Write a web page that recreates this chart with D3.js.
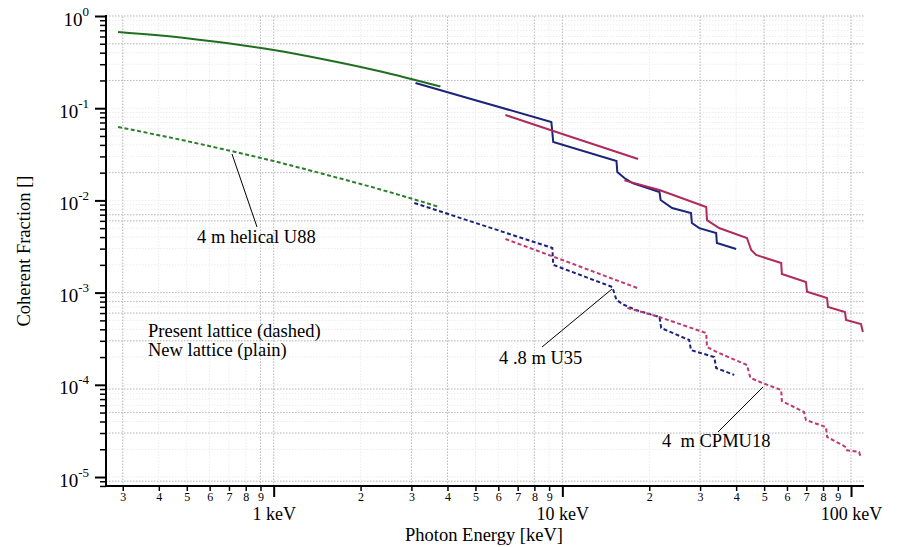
<!DOCTYPE html>
<html>
<head>
<meta charset="utf-8">
<script src="https://cdn.jsdelivr.net/npm/d3@7/dist/d3.min.js"></script>
<style>
  html, body { margin: 0; padding: 0; background: #fff; }
  svg { display: block; font-family: "Liberation Serif", "Times New Roman", serif; }
</style>
</head>
<body>
<svg id="chart" width="897" height="547"></svg>
<script>
// ---------------- DATA ----------------
// Photon energy [keV] and coherent fraction []
const u88NewE   = [0.289, 0.5, 0.705, 1.0, 1.5, 2.33, 3.78];
const u88NewF   = [0.67, 0.575, 0.503, 0.428, 0.338, 0.252, 0.172];
const u88OldE   = [0.289, 0.5, 0.705, 1.0, 1.5, 2.33, 3.75];
const u88OldF   = [0.0625, 0.0440, 0.0346, 0.0267, 0.0192, 0.0132, 0.00848];

const u35NewE   = [3.10, 5.0, 9.16, 9.3, 15.4, 15.5, 16.4, 17.5, 21.7, 21.9, 24.0, 27.9, 28.1, 29.8, 34.1, 34.3, 40.0];
const u35NewF   = [0.188, 0.122, 0.0708, 0.043, 0.0267, 0.0203, 0.0175, 0.01545, 0.0123, 0.0101, 0.00828, 0.0073, 0.00569, 0.0050, 0.00443, 0.00345, 0.00297];
const u35OldE   = [3.07, 5.0, 9.23, 9.3, 14.9, 15.4, 16.4, 18.0, 21.7, 22.0, 27.5, 27.9, 33.6, 34.1, 39.4];
const u35OldF   = [0.00937, 0.0057, 0.00305, 0.0020, 0.00115, 0.00083, 0.000734, 0.000648, 0.000543, 0.000413, 0.000306, 0.000238, 0.000200, 0.000152, 0.000128];

const cpmuNewE1 = [6.35, 10.0, 18.3];
const cpmuNewF1 = [0.0844, 0.0526, 0.0281];
const cpmuNewE2 = [16.4, 21.7, 31.5, 31.7, 34.9, 43.6, 45.1, 46.9, 57.3, 57.6, 69.8, 70.4, 82.6, 83.2, 95.3, 96.1, 108.3, 109.9];
const cpmuNewF2 = [0.0165, 0.01297, 0.00848, 0.00612, 0.00502, 0.00391, 0.0029, 0.00256, 0.00209, 0.00159, 0.0013, 0.00102, 0.000874, 0.000698, 0.000616, 0.000505, 0.000456, 0.000374];
const cpmuOldE1 = [6.35, 10.0, 18.2];
const cpmuOldF1 = [0.00381, 0.00226, 0.00112];
const cpmuOldE2 = [16.8, 21.7, 31.5, 31.7, 34.9, 43.6, 44.8, 49.2, 57.3, 57.6, 68.7, 69.8, 81.9, 82.6, 96.1, 96.9, 106.6, 108.2];
const cpmuOldF2 = [0.00068, 0.000543, 0.000364, 0.000257, 0.000221, 0.000164, 0.000119, 0.000105, 0.0000879, 0.0000667, 0.0000507, 0.0000415, 0.0000348, 0.0000272, 0.0000211, 0.0000195, 0.0000187, 0.0000161];

// Axis ticks
const xMajorTicks = [1, 10, 100];
const xMajorLabels = ["1 keV", "10 keV", "100 keV"];
const xMinorTicks = [0.3,0.4,0.5,0.6,0.7,0.8,0.9, 2,3,4,5,6,7,8,9, 20,30,40,50,60,70,80,90];
const xMinorLabels = ["3","4","5","6","7","8","9","2","3","4","5","6","7","8","9","2","3","4","5","6","7","8","9"];
const yMajorTicks = [1, 1e-1, 1e-2, 1e-3, 1e-4, 1e-5];
const yMajorExp = ["0", "-1", "-2", "-3", "-4", "-5"];
// visible (darker) grid lines
const xGridStrong = [0.3, 0.9, 1, 3, 4, 8, 10, 30, 50, 80, 100];
const yGridStrong = [1, 0.5, 0.2, 0.02, 7e-3, 6e-3, 1e-3, 8e-4, 6e-4, 3e-4, 9e-5, 5e-5, 3e-5, 9e-6];

// ---------------- CHART ----------------
const svg = d3.select("#chart");
const x = d3.scaleLog().domain([0.2625, 110.9]).range([106, 864]);
const y = d3.scaleLog().domain([7.99e-6, 1]).range([486, 16]);

const yMinorTicks = [];
for (let e = -6; e <= 0; e++) for (let m = 2; m <= 9; m++) {
  const v = m * Math.pow(10, e);
  if (v >= 7.99e-6 && v <= 1) yMinorTicks.push(v);
}

const [x0, x1] = x.range();
const [y0, y1] = y.range();

// faint grid
const g = svg.append("g");
g.selectAll(".vf").data(xMinorTicks.concat(xMajorTicks)).join("line")
  .attr("x1", d => x(d)).attr("x2", d => x(d)).attr("y1", y0).attr("y2", y1)
  .attr("stroke", "#ececec").attr("stroke-width", 1).attr("stroke-dasharray", "1.5,1.5");
g.selectAll(".hf").data(yMinorTicks.concat(yMajorTicks)).join("line")
  .attr("x1", x0).attr("x2", x1).attr("y1", d => y(d)).attr("y2", d => y(d))
  .attr("stroke", "#ececec").attr("stroke-width", 1).attr("stroke-dasharray", "1.5,1.5");
// strong grid
g.selectAll(".vs").data(xGridStrong).join("line")
  .attr("x1", d => x(d)).attr("x2", d => x(d)).attr("y1", y0).attr("y2", y1)
  .attr("stroke", "#bdbdbd").attr("stroke-width", 1).attr("stroke-dasharray", "1.5,1.5");
g.selectAll(".hs").data(yGridStrong).join("line")
  .attr("x1", x0).attr("x2", x1).attr("y1", d => y(d)).attr("y2", d => y(d))
  .attr("stroke", "#bdbdbd").attr("stroke-width", 1).attr("stroke-dasharray", "1.5,1.5");

// curves
const lineSmooth = d3.line().x(d => x(d[0])).y(d => y(d[1])).curve(d3.curveMonotoneX);
const lineStep = d3.line().x(d => x(d[0])).y(d => y(d[1]));
const zip = (a, b) => a.map((v, i) => [v, b[i]]);
const GREEN = "#1f6f1f", BLUE = "#1b237a", MAG = "#b02a5c", MAGD = "#c03a72";
const series = [
  {e: u88OldE, f: u88OldF, c: "#2b7f2b", dash: true, smooth: true},
  {e: u35OldE, f: u35OldF, c: BLUE, dash: true},
  {e: cpmuOldE1, f: cpmuOldF1, c: MAGD, dash: true},
  {e: cpmuOldE2, f: cpmuOldF2, c: MAGD, dash: true},
  {e: u88NewE, f: u88NewF, c: GREEN, dash: false, smooth: true},
  {e: u35NewE, f: u35NewF, c: BLUE, dash: false},
  {e: cpmuNewE1, f: cpmuNewF1, c: MAG, dash: false},
  {e: cpmuNewE2, f: cpmuNewF2, c: MAG, dash: false}
];
svg.append("g").selectAll("path").data(series).join("path")
  .attr("d", s => (s.smooth ? lineSmooth : lineStep)(zip(s.e, s.f)))
  .attr("fill", "none").attr("stroke", s => s.c)
  .attr("stroke-width", 2)
  .attr("stroke-dasharray", s => s.dash ? "4,2.5" : null);

// axes
const ax = svg.append("g");
// x minor ticks
ax.append("g").attr("transform", `translate(0,${y0})`)
  .call(d3.axisBottom(x).tickValues(xMinorTicks).tickSize(5).tickFormat((d, i) => xMinorLabels[i]))
  .call(s => s.select(".domain").remove())
  .call(s => s.selectAll("line").attr("stroke", "#000").attr("stroke-width", 1.5))
  .call(s => s.selectAll("text").attr("font-size", 12).attr("font-family", "Liberation Serif").attr("fill", "#000").attr("dy", 0).attr("y", 15));
ax.append("g").attr("transform", `translate(0,${y0})`)
  .call(d3.axisBottom(x).tickValues(xMajorTicks).tickSize(11).tickFormat((d, i) => xMajorLabels[i]))
  .call(s => s.select(".domain").remove())
  .call(s => s.selectAll("line").attr("stroke", "#000").attr("stroke-width", 2))
  .call(s => s.selectAll("text").attr("font-size", 18).attr("font-family", "Liberation Serif").attr("fill", "#000").attr("dy", 0).attr("y", 34));
// y minor ticks
ax.append("g").attr("transform", `translate(${x0},0)`)
  .call(d3.axisLeft(y).tickValues(yMinorTicks).tickSize(6).tickFormat(""))
  .call(s => s.select(".domain").remove())
  .call(s => s.selectAll("line").attr("stroke", "#000").attr("stroke-width", 1.5));
const yMaj = ax.append("g").attr("transform", `translate(${x0},0)`)
  .call(d3.axisLeft(y).tickValues(yMajorTicks).tickSize(11).tickFormat(""))
  .call(s => s.select(".domain").remove())
  .call(s => s.selectAll("line").attr("stroke", "#000").attr("stroke-width", 2));
yMaj.selectAll(".tick").append("text")
  .attr("x", -17).attr("y", 9).attr("text-anchor", "end").attr("fill", "#000")
  .attr("font-family", "Liberation Serif").attr("font-size", 19)
  .each(function(d, i) {
    const t = d3.select(this);
    t.append("tspan").text("10");
    t.append("tspan").attr("font-size", 13).attr("dy", -10).text(yMajorExp[i]);
  });
// axis lines
ax.append("line").attr("x1", x0).attr("x2", x0).attr("y1", y0 + 1).attr("y2", y1 - 1)
  .attr("stroke", "#000").attr("stroke-width", 2);
ax.append("line").attr("x1", x0 - 1).attr("x2", x1).attr("y1", y0).attr("y2", y0)
  .attr("stroke", "#000").attr("stroke-width", 2);

// axis titles
svg.append("text").attr("x", 484).attr("y", 541).attr("text-anchor", "middle")
  .attr("font-size", 18.5).text("Photon Energy [keV]");
svg.append("text").attr("transform", "translate(30,251) rotate(-90)").attr("text-anchor", "middle")
  .attr("font-size", 18.5).text("Coherent Fraction []");

// annotations
const ann = svg.append("g").attr("font-size", 18.5).attr("fill", "#000");
ann.append("text").attr("x", 148).attr("y", 337).text("Present lattice (dashed)");
ann.append("text").attr("x", 148).attr("y", 356).text("New lattice (plain)");
ann.append("line").attr("x1", 232).attr("y1", 154).attr("x2", 257).attr("y2", 227).attr("stroke", "#000").attr("stroke-width", 1);
ann.append("text").attr("x", 197).attr("y", 243).text("4 m helical U88");
ann.append("line").attr("x1", 542).attr("y1", 347).attr("x2", 612).attr("y2", 289).attr("stroke", "#000").attr("stroke-width", 1);
ann.append("text").attr("x", 499).attr("y", 364).text("4 .8 m U35");
ann.append("line").attr("x1", 718).attr("y1", 432).attr("x2", 763).attr("y2", 387).attr("stroke", "#000").attr("stroke-width", 1);
ann.append("text").attr("x", 662).attr("y", 447).style("white-space", "pre").text("4  m CPMU18");
</script>
</body>
</html>
